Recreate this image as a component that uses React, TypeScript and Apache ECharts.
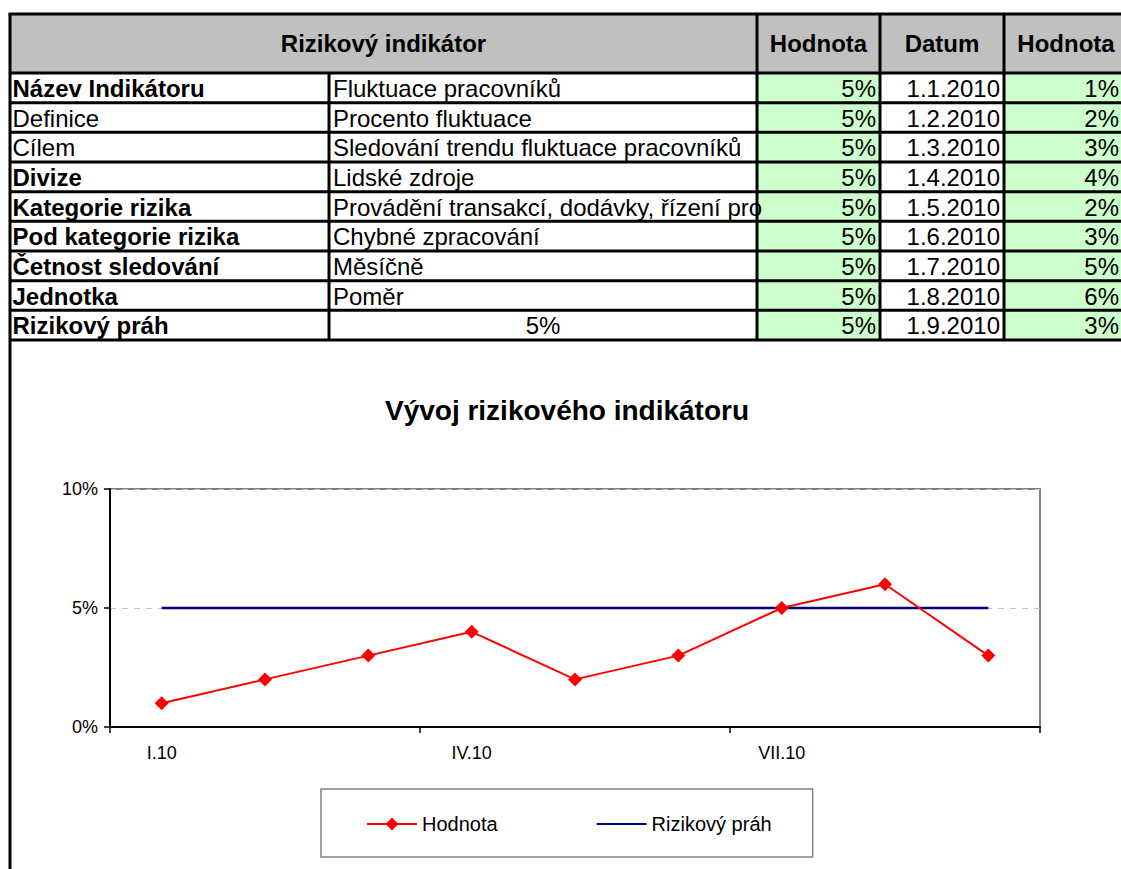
import React, { useEffect, useRef } from "react";
import * as echarts from "echarts";

const FONT = "'Liberation Sans', Arial, Helvetica, sans-serif";

// ---- data ----
const headerTitle = "Rizikový indikátor";
const headerCols = ["Hodnota", "Datum", "Hodnota"];
const rowLabels = [
  "Název Indikátoru",
  "Definice",
  "Cílem",
  "Divize",
  "Kategorie rizika",
  "Pod kategorie rizika",
  "Četnost sledování",
  "Jednotka",
  "Rizikový práh",
];
const rowBold = [true, false, false, true, true, true, true, true, true];
const rowValues = [
  "Fluktuace pracovníků",
  "Procento fluktuace",
  "Sledování trendu fluktuace pracovníků",
  "Lidské zdroje",
  "Provádění transakcí, dodávky, řízení pro",
  "Chybné zpracování",
  "Měsíčně",
  "Poměr",
  "5%",
];
const dates = [
  "1.1.2010",
  "1.2.2010",
  "1.3.2010",
  "1.4.2010",
  "1.5.2010",
  "1.6.2010",
  "1.7.2010",
  "1.8.2010",
  "1.9.2010",
];
const months = ["I.10", "II.10", "III.10", "IV.10", "V.10", "VI.10", "VII.10", "VIII.10", "IX.10"];
const hodnota = [1, 2, 3, 4, 2, 3, 5, 6, 3];
const prah = [5, 5, 5, 5, 5, 5, 5, 5, 5];
const chartTitle = "Vývoj rizikového indikátoru";

// ---- layout of the sheet ----
const X0 = 10;
const XC1 = 329;
const XC2 = 757;
const XC3 = 880;
const XC4 = 1004;
const XR = 1121;
const YTOP = 14;
const YHEAD = 73;
const YBOT = 340;
const ROWH = (YBOT - YHEAD) / rowLabels.length;

function buildGraphics() {
  const els: any[] = [];
  const txt = (text: string, x: number, y: number, align: string, bold: boolean, size = 24, z = 4) => ({
    type: "text",
    z,
    style: {
      text,
      x,
      y,
      fill: "#000",
      font: `${bold ? "bold " : ""}${size}px ${FONT}`,
      align,
      verticalAlign: "middle",
      textAlign: align,
      textVerticalAlign: "middle",
    },
  });
  const line = (x1: number, y1: number, x2: number, y2: number, w = 3) => ({
    type: "line",
    z: 5,
    shape: { x1, y1, x2, y2 },
    style: { stroke: "#000", lineWidth: w },
  });
  // header fill
  els.push({ type: "rect", z: 1, shape: { x: X0, y: YTOP, width: XR - X0, height: YHEAD - YTOP }, style: { fill: "#C0C0C0" } });
  // green columns
  els.push({ type: "rect", z: 1, shape: { x: XC2, y: YHEAD, width: XC3 - XC2, height: YBOT - YHEAD }, style: { fill: "#CCFFCC" } });
  els.push({ type: "rect", z: 1, shape: { x: XC4, y: YHEAD, width: XR - XC4, height: YBOT - YHEAD }, style: { fill: "#CCFFCC" } });
  // header texts
  const hy = (YTOP + YHEAD) / 2;
  els.push(txt(headerTitle, (X0 + XC2) / 2, hy, "center", true));
  els.push(txt(headerCols[0], (XC2 + XC3) / 2, hy, "center", true));
  els.push(txt(headerCols[1], (XC3 + XC4) / 2, hy, "center", true));
  els.push(txt(headerCols[2], 1066, hy, "center", true));
  // rows
  rowLabels.forEach((lab, i) => {
    const cy = YHEAD + ROWH * (i + 0.5) + 0.5;
    els.push(txt(lab, X0 + 2.5, cy, "left", rowBold[i]));
    if (i === rowLabels.length - 1) {
      els.push(txt(rowValues[i], (XC1 + XC2) / 2, cy, "center", false, 24, 2));
    } else {
      els.push(txt(rowValues[i], XC1 + 4, cy, "left", false, 24, 2));
    }
    els.push(txt(prah[i] + "%", XC3 - 4, cy, "right", false));
    els.push(txt(dates[i], XC4 - 4, cy, "right", false));
    els.push(txt(hodnota[i] + "%", XR - 2, cy, "right", false));
  });
  // lines
  els.push(line(X0 - 1.5, YTOP, XR, YTOP));
  els.push(line(X0, YTOP, X0, 869));
  els.push(line(X0, YHEAD, XR, YHEAD));
  for (let i = 1; i < rowLabels.length; i++) {
    const y = YHEAD + ROWH * i;
    els.push(line(X0, y, XR, y));
  }
  els.push(line(X0, YBOT, XR, YBOT));
  els.push(line(XC1, YHEAD, XC1, YBOT));
  els.push(line(XC2, YTOP, XC2, YBOT));
  els.push(line(XC3, YTOP, XC3, YBOT));
  els.push(line(XC4, YTOP, XC4, YBOT));
  // chart title
  els.push(txt(chartTitle, 567, 410, "center", true, 28));
  return els;
}

export default function App() {
  const ref = useRef<HTMLDivElement>(null);
  useEffect(() => {
    if (!ref.current) return;
    const chart = echarts.init(ref.current, null, { renderer: "svg" });
    chart.setOption({
      animation: false,
      backgroundColor: "#fff",
      textStyle: { fontFamily: FONT },
      graphic: { elements: buildGraphics() },
      grid: {
        left: 110,
        right: 1121 - 1040,
        top: 489,
        bottom: 869 - 727,
        show: true,
        borderColor: "#808080",
        borderWidth: 2,
        backgroundColor: "transparent",
      },
      legend: {
        left: 321,
        top: 789,
        orient: "horizontal",
        itemWidth: 50,
        itemHeight: 16,
        itemGap: 98,
        padding: [25, 41, 23, 45],
        borderColor: "#808080",
        borderWidth: 1.5,
        borderRadius: 0,
        textStyle: { fontSize: 20, color: "#000", fontFamily: FONT },
        data: [
          { name: "Hodnota" },
          { name: "Rizikový práh", itemStyle: { opacity: 0, borderWidth: 0 } },
        ],
      },
      xAxis: {
        type: "category",
        data: months,
        boundaryGap: true,
        axisLine: { show: true, lineStyle: { color: "#000", width: 2 } },
        axisTick: { show: true, interval: 2, length: 6, lineStyle: { color: "#000", width: 1.5 } },
        axisLabel: { interval: 2, color: "#000", fontSize: 18, margin: 17, fontFamily: FONT },
        splitLine: { show: false },
      },
      yAxis: {
        type: "value",
        min: 0,
        max: 10,
        interval: 5,
        axisLine: { show: true, lineStyle: { color: "#000", width: 2 } },
        axisTick: { show: true, length: 6, lineStyle: { color: "#000", width: 1.5 } },
        axisLabel: { formatter: "{value}%", color: "#000", fontSize: 18, margin: 12, fontFamily: FONT },
        splitLine: { show: true, lineStyle: { color: "#C0C0C0", width: 1, type: [6, 6] } },
      },
      series: [
        {
          name: "Rizikový práh",
          type: "line",
          data: prah,
          symbol: "none",
          z: 2,
          lineStyle: { color: "#000080", width: 2.5 },
          itemStyle: { color: "#000080" },
        },
        {
          name: "Hodnota",
          type: "line",
          data: hodnota,
          symbol: "diamond",
          symbolSize: 14,
          z: 3,
          lineStyle: { color: "#FF0000", width: 2 },
          itemStyle: { color: "#FF0000" },
        },
      ],
    });
    return () => chart.dispose();
  }, []);
  return (
    <div
      ref={ref}
      style={{ position: "fixed", left: 0, top: 0, width: 1121, height: 869, background: "#fff" }}
    />
  );
}
